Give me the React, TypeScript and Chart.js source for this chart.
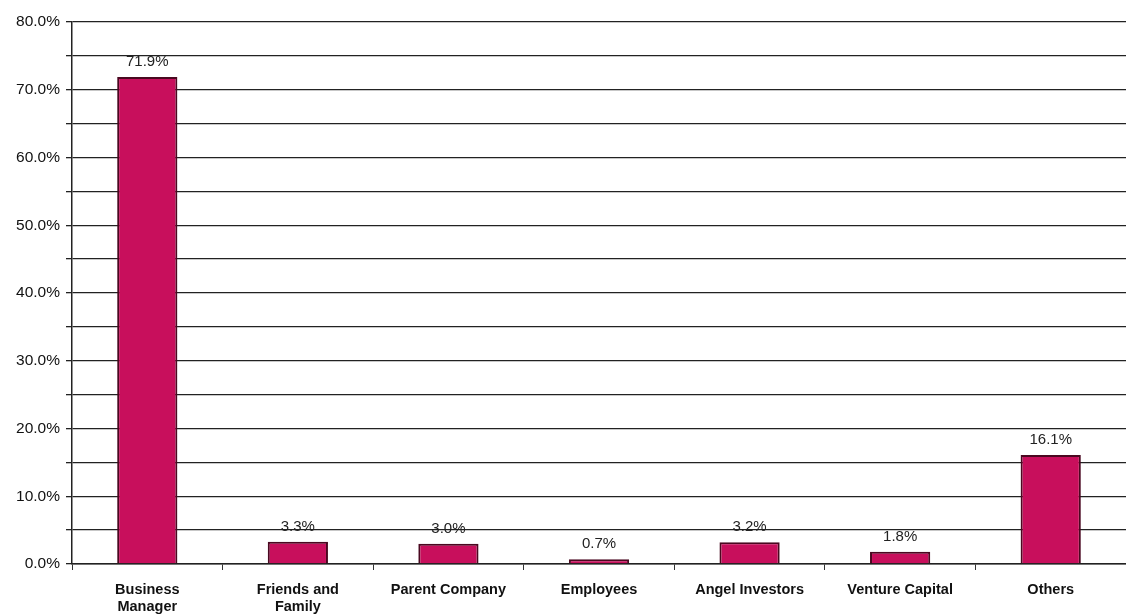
import React, { useEffect, useRef } from "react";
import { Chart, registerables } from "chart.js";

Chart.register(...registerables);

const categories: (string | string[])[] = [
  ["Business", "Manager"],
  ["Friends and", "Family"],
  "Parent Company",
  "Employees",
  "Angel Investors",
  "Venture Capital",
  "Others",
];
const shares: number[] = [71.9, 3.3, 3.0, 0.7, 3.2, 1.8, 16.1];
const yMin = 0;
const yMax = 80;
const yStep = 5;

const FONT = "Arial, 'Liberation Sans', sans-serif";

const labelPlugin = {
  id: "barLabels",
  afterDatasetsDraw(chart: any) {
    const ctx = chart.ctx;
    const meta = chart.getDatasetMeta(0);
    ctx.save();
    ctx.font = "15px " + FONT;
    ctx.fillStyle = "#222";
    ctx.textAlign = "center";
    ctx.textBaseline = "alphabetic";
    meta.data.forEach((el: any, i: number) => {
      ctx.fillText(shares[i].toFixed(1) + "%", el.x, el.y - 11);
    });
    ctx.restore();
  },
};

export default function App() {
  const ref = useRef<HTMLCanvasElement>(null);
  useEffect(() => {
    document.body.style.margin = "0";
    const chart = new Chart(ref.current!, {
      type: "bar",
      data: {
        labels: categories,
        datasets: [
          {
            data: shares,
            backgroundColor: "#c80f5c",
            borderColor: "#4a0820",
            borderWidth: 2,
            barPercentage: 0.4,
            categoryPercentage: 1,
          },
        ],
      },
      options: {
        animation: false,
        responsive: false,
        layout: { padding: { top: 22, right: 0, left: 0, bottom: 0 } },
        plugins: { legend: { display: false }, tooltip: { enabled: false } },
        scales: {
          x: {
            grid: { display: true, drawOnChartArea: false, color: "#333", tickLength: 6, offset: true },
            border: { color: "#222", width: 1.5 },
            ticks: {
              color: "#111",
              font: { family: FONT, size: 14.5, weight: "bold", lineHeight: 1.15 },
              padding: 12,
              maxRotation: 0,
              autoSkip: false,
            },
            afterFit: (s: any) => {
              s.height = 52;
            },
          },
          y: {
            min: yMin,
            max: yMax,
            grid: { color: "#222", lineWidth: 1.3, tickLength: 6 },
            border: { color: "#222", width: 1.5 },
            ticks: {
              stepSize: yStep,
              color: "#111",
              font: { family: FONT, size: 15.5 },
              padding: 6,
              callback: (v: any) => (Number(v) % 10 === 0 ? Number(v).toFixed(1) + "%" : ""),
            },
            afterFit: (s: any) => {
              s.width = 72;
            },
          },
        },
      },
      plugins: [labelPlugin],
    });
    return () => chart.destroy();
  }, []);
  return (
    <div style={{ position: "absolute", left: 0, top: 0, width: 1126, height: 616, background: "#fff" }}>
      <canvas ref={ref} width={1126} height={616} />
    </div>
  );
}
